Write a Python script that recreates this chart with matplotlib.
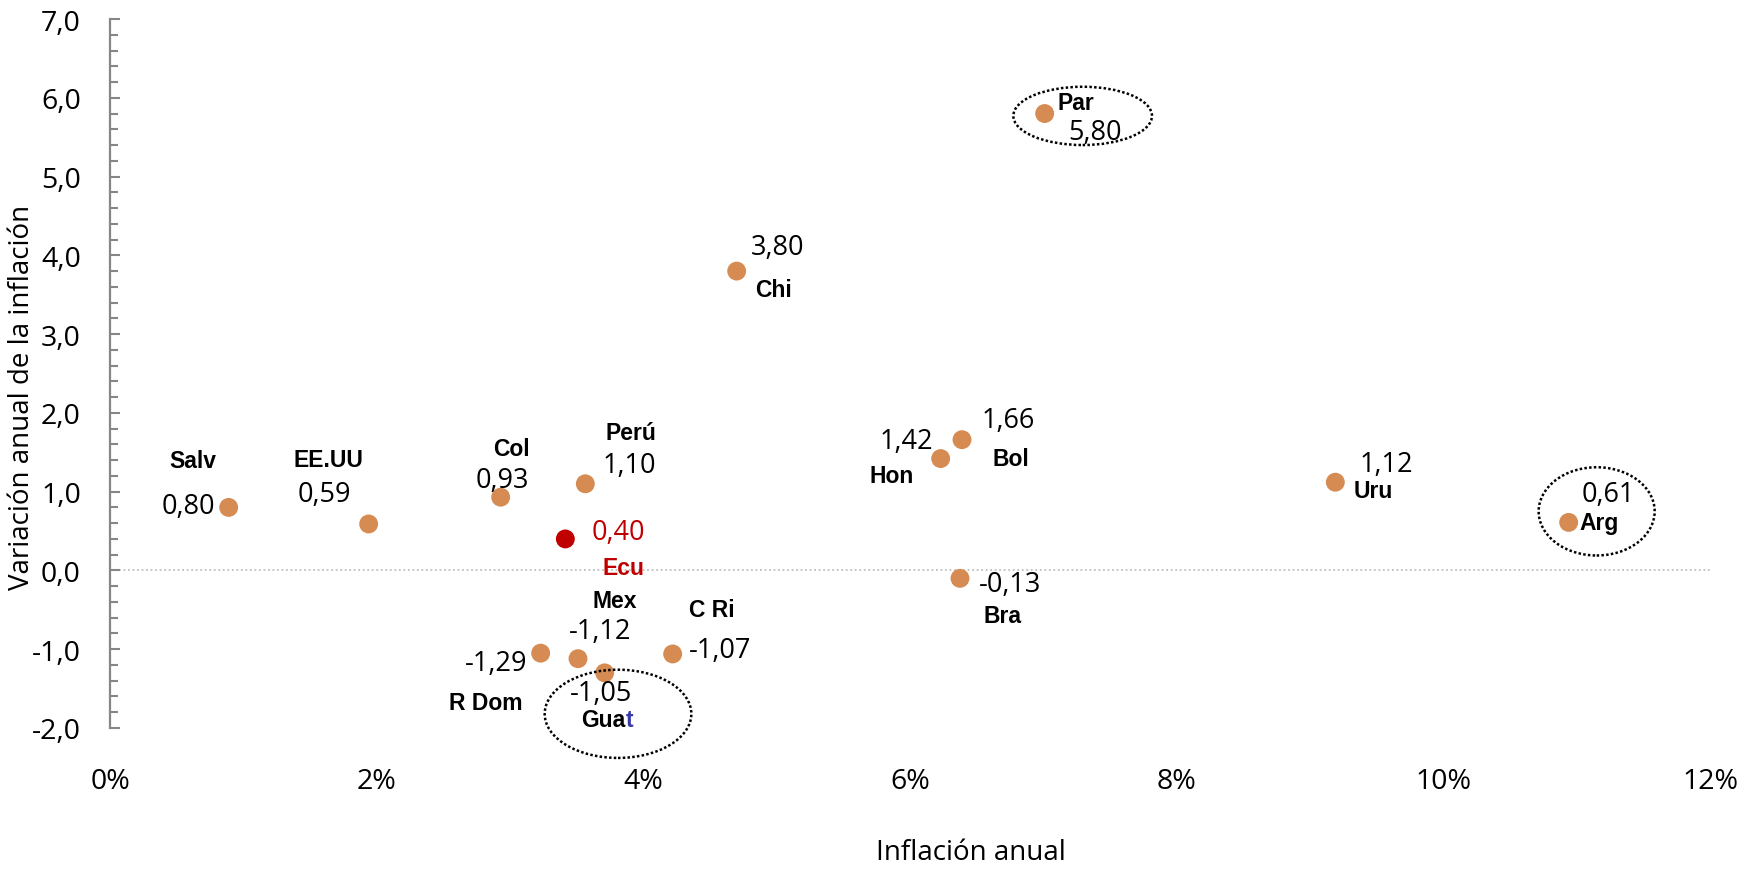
import numpy as np
import matplotlib
matplotlib.use("Agg")
import matplotlib.pyplot as plt
from matplotlib.patches import Ellipse
from matplotlib.ticker import MultipleLocator, FuncFormatter

# datos
paises = ['Salv', 'EE.UU', 'Col', 'Perú', 'Ecu', 'R Dom', 'Mex', 'Guat',
          'C Ri', 'Chi', 'Hon', 'Bol', 'Bra', 'Par', 'Uru', 'Arg']
inflacion = [0.89, 1.94, 2.93, 3.565, 3.415, 3.23, 3.51, 3.71,
             4.22, 4.70, 6.23, 6.39, 6.375, 7.01, 9.19, 10.94]
variacion = [0.80, 0.59, 0.93, 1.10, 0.40, -1.05, -1.12, -1.30,
             -1.06, 3.80, 1.42, 1.66, -0.10, 5.80, 1.12, 0.61]
etiquetas_valor = ['0,80', '0,59', '0,93', '1,10', '0,40', '-1,29', '-1,12', '-1,05',
                   '-1,07', '3,80', '1,42', '1,66', '-0,13', '5,80', '1,12', '0,61']
x_ticks = [0, 2, 4, 6, 8, 10, 12]

# desplazamientos de las etiquetas (pixeles): nombre y valor
off_nombre = [(-36, 47), (-40, 64), (11, 49), (46, 51), (58, -29), (-55, -49), (37, 58), (2, -47),
              (39, 44), (37, -18), (-49, -17), (49, -19), (43, -37), (31, 11), (38, -8), (30, 0)]
off_valor = [(-40, 1), (-44, 30), (2, 17), (44, 19), (53, 7), (-45, -10), (22, 28), (-4, -20),
             (47, 4), (41, 24), (-34, 18), (46, 20), (50, -6), (50, -18), (51, 18), (40, 28)]

# elipses punteadas (centro x, centro y, ancho, alto)
elipses = [(7.295, 5.77, 1.04, 0.74), (11.15, 0.75, 0.87, 1.12), (3.81, -1.82, 1.10, 1.12)]

naranja = '#D68B52'
rojo = '#C00000'
gris = '#868686'

fig = plt.figure(figsize=(17.62, 8.7), dpi=100)
ax = fig.add_axes([110 / 1762, 1 - 729 / 870, 1600 / 1762, 709 / 870])

colores = [rojo if p == 'Ecu' else naranja for p in paises]
ax.scatter(inflacion, variacion, s=185, c=colores, zorder=3, linewidths=0)

ax.axhline(0, color='#BFBFBF', lw=1.3, ls=(0, (1, 1.5)), zorder=1)

for i, p in enumerate(paises):
    col = rojo if p == 'Ecu' else 'black'
    if p == 'Guat':
        ax.annotate('Gua', (inflacion[i], variacion[i]), xytext=(off_nombre[i][0] + 19, off_nombre[i][1]),
                    textcoords='offset pixels', ha='right', va='center', fontsize=16.5,
                    fontweight='bold', family='Liberation Sans', color='black', annotation_clip=False)
        ax.annotate('t', (inflacion[i], variacion[i]), xytext=(off_nombre[i][0] + 19, off_nombre[i][1]),
                    textcoords='offset pixels', ha='left', va='center', fontsize=16.5,
                    fontweight='bold', family='Liberation Sans', color='#3A3AA6', annotation_clip=False)
    else:
        ax.annotate(p, (inflacion[i], variacion[i]), xytext=off_nombre[i],
                    textcoords='offset pixels', ha='center', va='center', fontsize=16.5,
                    fontweight='bold', family='Liberation Sans', color=col, annotation_clip=False)
    ax.annotate(etiquetas_valor[i], (inflacion[i], variacion[i]), xytext=off_valor[i],
                textcoords='offset pixels', ha='center', va='center', fontsize=19.5,
                family='Open Sans', color=col, annotation_clip=False)

for cx, cy, w, h in elipses:
    e = Ellipse((cx, cy), w, h, fill=False, edgecolor='black', lw=1.8,
                ls=(0, (1, 0.9)), clip_on=False, zorder=4)
    ax.add_patch(e)

ax.set_xlim(0, 12)
ax.set_ylim(-2, 7)
ax.set_xticks(x_ticks)
ax.set_xticklabels([f'{t}%' for t in x_ticks])
ax.yaxis.set_major_locator(MultipleLocator(1))
ax.yaxis.set_minor_locator(MultipleLocator(0.2))
ax.yaxis.set_major_formatter(FuncFormatter(lambda v, pos: f'{v:.1f}'.replace('.', ',')))

for s in ['top', 'right', 'bottom']:
    ax.spines[s].set_visible(False)
ax.spines['left'].set_color(gris)
ax.spines['left'].set_linewidth(1.6)

ax.tick_params(axis='y', which='major', direction='in', length=7.2, width=1.5, color=gris,
               pad=21, labelsize=20.5)
ax.tick_params(axis='y', which='minor', direction='in', length=5.8, width=1.5, color=gris)
ax.tick_params(axis='x', length=0, pad=28, labelsize=20.5)
for lab in ax.get_xticklabels() + ax.get_yticklabels():
    lab.set_family('Open Sans')

ax.set_xlabel('Inflación anual', fontsize=20, family='Open Sans')
ax.xaxis.set_label_coords(0.538, -0.175)
ax.xaxis.label.set_verticalalignment('center')
ax.set_ylabel('Variación anual de la inflación', fontsize=20, family='Open Sans')
ax.yaxis.set_label_coords(-0.055, 0.467)
ax.yaxis.label.set_verticalalignment('center')

plt.savefig('out.png', dpi=100)
